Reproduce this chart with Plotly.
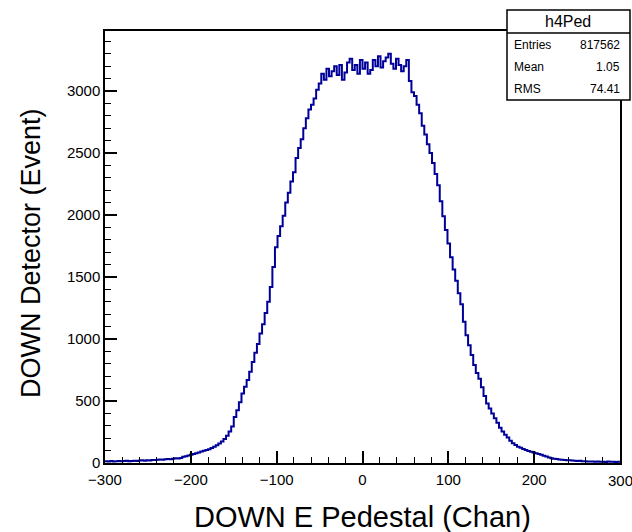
import numpy as np
import plotly.graph_objects as go

# ---- data (3-channel resolution) ----
x_min = -300
x_max = 300
bin_width = 3
counts = [
    14, 12, 16, 13, 15, 17, 14, 16, 18, 15,
    17, 19, 16, 20, 22, 19, 23, 21, 25, 24,
    26, 29, 27, 31, 33, 30, 35, 38, 36, 41,
    50, 54, 60, 66, 72, 78, 85, 92, 98, 105,
    110, 120, 132, 143, 158, 174, 193, 220, 255, 295,
    370, 425, 490, 560, 615, 670, 735, 815, 890, 960,
    1045, 1120, 1210, 1300, 1420, 1580, 1740, 1830, 1910, 1995,
    2100, 2180, 2270, 2345, 2460, 2540, 2610, 2700, 2780, 2850,
    2890, 2940, 3010, 3060, 3140, 3090, 3180, 3120, 3160, 3200,
    3130, 3210, 3090, 3150, 3230, 3260, 3170, 3210, 3140, 3250,
    3180, 3230, 3140, 3170, 3250, 3200, 3280, 3190, 3240, 3270,
    3300, 3220, 3180, 3260, 3210, 3160, 3200, 3250, 3080, 2990,
    2960, 2890, 2820, 2720, 2650, 2570, 2500, 2420, 2330, 2240,
    2110, 1990, 1880, 1770, 1660, 1560, 1470, 1370, 1280, 1140,
    1030, 950, 870, 790, 725, 680, 610, 540, 480, 440,
    400, 360, 325, 285, 255, 228, 205, 180, 160, 145,
    132, 122, 112, 104, 97, 90, 84, 78, 72, 66,
    58, 52, 44, 38, 35, 32, 29, 27, 25, 23,
    22, 20, 19, 17, 18, 15, 14, 13, 12, 13,
    11, 12, 10, 11, 9, 12, 10, 11, 9, 10,
]
hist_name = "h4Ped"
stats_labels = ["Entries", "Mean", "RMS"]
stats_values = ["817562", "1.05", "74.41"]
x_title = "DOWN E Pedestal (Chan)"
y_title = "DOWN Detector (Event)"
y_max = 3484

# ---- figure ----
edges = x_min + bin_width * np.arange(len(counts) + 1)
ys = list(counts) + [counts[-1]]

FONT = "Liberation Sans, Arial, sans-serif"
fig = go.Figure()
fig.add_trace(go.Scatter(
    x=edges, y=ys, mode="lines", line=dict(color="#000099", width=2, shape="hv"),
    hoverinfo="skip", showlegend=False, cliponaxis=True,
))

fig.update_layout(
    width=632, height=532,
    margin=dict(l=105, r=12, t=31, b=69, autoexpand=False),
    paper_bgcolor="white", plot_bgcolor="white",
    font=dict(family=FONT, color="black"),
    xaxis=dict(
        range=[x_min, x_max], dtick=100, tick0=0, ticks="inside", ticklen=12,
        tickwidth=1.5, tickcolor="black", showgrid=False, zeroline=False,
        showline=True, linecolor="black", linewidth=1.5, mirror=True,
        tickfont=dict(size=15, family=FONT), automargin=False, ticklabelstandoff=2,
        minor=dict(ticks="inside", ticklen=6, dtick=20, tickcolor="black", tickwidth=1.2, showgrid=False),
    ),
    yaxis=dict(
        range=[0, y_max], dtick=500, tick0=0, ticks="inside", ticklen=12,
        tickwidth=1.5, tickcolor="black", showgrid=False, zeroline=False,
        showline=True, linecolor="black", linewidth=1.5, mirror=True,
        tickfont=dict(size=15, family=FONT), automargin=False,
        minor=dict(ticks="inside", ticklen=6, dtick=100, tickcolor="black", tickwidth=1.2, showgrid=False),
    ),
)

def px_x(p):
    return (p - 105) / 515.0

def px_y(p):
    return (463 - p) / 432.0

# last x tick label (clipped at the canvas edge, as in the reference)
fig.add_annotation(xref="x", yref="paper", x=x_max, y=px_y(480),
                   text=str(x_max), showarrow=False, font=dict(size=15, family=FONT),
                   xanchor="center", yanchor="middle")

# stats box
fig.add_shape(type="rect", xref="paper", yref="paper",
              x0=px_x(507), x1=px_x(630), y0=px_y(100), y1=px_y(10),
              line=dict(color="black", width=1.5), fillcolor="white", layer="above")
fig.add_shape(type="line", xref="paper", yref="paper",
              x0=px_x(507), x1=px_x(630), y0=px_y(33), y1=px_y(33),
              line=dict(color="black", width=1.5), layer="above")
fig.add_annotation(xref="paper", yref="paper", x=px_x(568), y=px_y(21.5),
                   text=hist_name, showarrow=False, font=dict(size=16, family=FONT),
                   xanchor="center", yanchor="middle")
rows_y = [45, 67, 89]
for lab, val, ry in zip(stats_labels, stats_values, rows_y):
    fig.add_annotation(xref="paper", yref="paper", x=px_x(512), y=px_y(ry),
                       text=lab, showarrow=False, font=dict(size=12, family=FONT),
                       xanchor="left", yanchor="middle")
    fig.add_annotation(xref="paper", yref="paper", x=px_x(622), y=px_y(ry),
                       text=val, showarrow=False, font=dict(size=12, family=FONT),
                       xanchor="right", yanchor="middle")

# axis titles
fig.add_annotation(xref="paper", yref="paper", x=px_x(362), y=px_y(517),
                   text=x_title, showarrow=False, font=dict(size=29, family=FONT),
                   xanchor="center", yanchor="middle")
fig.add_annotation(xref="paper", yref="paper", x=px_x(31), y=px_y(253),
                   text=y_title, showarrow=False, font=dict(size=27, family=FONT),
                   xanchor="center", yanchor="middle", textangle=-90)

fig.write_html("out.html")
